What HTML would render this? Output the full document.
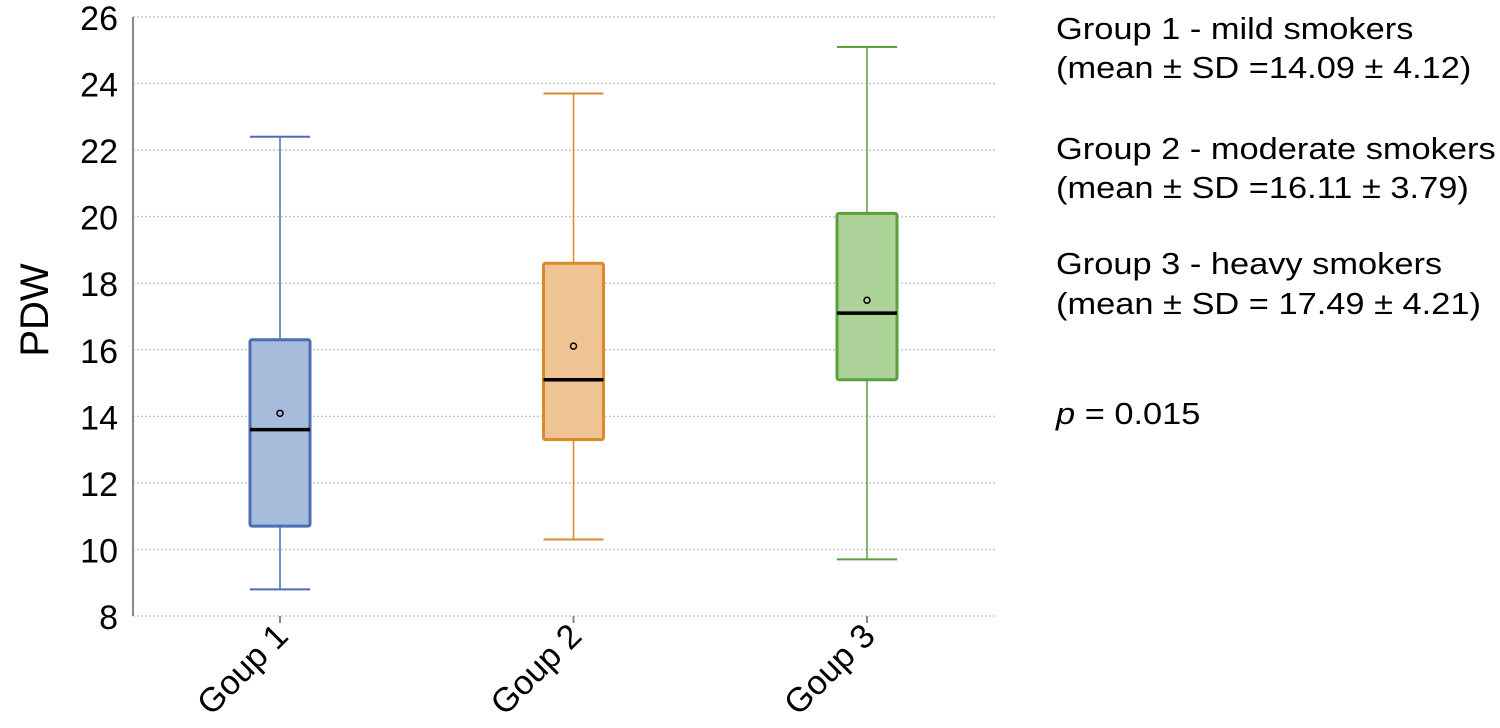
<!DOCTYPE html>
<html><head><meta charset="utf-8"><style>
body{margin:0;background:#fff;}
svg{display:block;font-family:"Liberation Sans",Arial,sans-serif;}
</style></head><body>
<svg id="chart" width="1500" height="728" viewBox="0 0 1500 728">
<g id="grid"></g>
<g id="yticks"></g>
<line x1="133" y1="17" x2="133" y2="616" stroke="#888" stroke-width="2"/>
<g id="boxes"></g>
<g id="xlabels"></g>
<text transform="translate(48,310) rotate(-90)" text-anchor="middle" font-size="40" fill="#000">PDW</text>
<g transform="translate(1056,0) scale(1.11,1)" font-size="31" fill="#000">
<text x="0" y="39">Group 1 - mild smokers</text>
<text x="0" y="78">(mean ± SD =14.09 ± 4.12)</text>
<text x="0" y="159">Group 2 - moderate smokers</text>
<text x="0" y="198">(mean ± SD =16.11 ± 3.79)</text>
<text x="0" y="274">Group 3 - heavy smokers</text>
<text x="0" y="314">(mean ± SD = 17.49 ± 4.21)</text>
<text x="0" y="424"><tspan font-style="italic">p</tspan> = 0.015</text>
</g>
</svg>
<script>
const categories=["Goup 1","Goup 2","Goup 3"];
const mins=[8.8,10.3,9.7];
const q1s=[10.7,13.3,15.1];
const medians=[13.6,15.1,17.1];
const q3s=[16.3,18.6,20.1];
const maxs=[22.4,23.7,25.1];
const means=[14.09,16.11,17.49];
const yTicks=[8,10,12,14,16,18,20,22,24,26];
const strokes=["#4a6fb0","#d98a2b","#5aa03c"];
const fills=["#a7bbdb","#efc393","#aed39a"];
const NS="http://www.w3.org/2000/svg";
const y=v=>616-(v-8)*(599/18);
const x=i=>280+i*293.5;
function mk(tag,attrs,parent){const e=document.createElementNS(NS,tag);for(const k in attrs)e.setAttribute(k,attrs[k]);parent.appendChild(e);return e;}
const grid=document.getElementById('grid'),yt=document.getElementById('yticks'),bx=document.getElementById('boxes'),xl=document.getElementById('xlabels');
yTicks.forEach(t=>{
 const l=mk('line',{x1:133,x2:995,y1:y(t),y2:y(t),stroke:'#c8c8c8','stroke-width':1.5,'stroke-dasharray':'2,2'},grid);
 
 
 const tx=mk('text',{x:118,y:y(t)+13,'text-anchor':'end','font-size':34,fill:'#000'},yt);
 tx.textContent=t;
 
 
});
categories.forEach((c,i)=>{
 const cx=x(i),hw=30,s=strokes[i];
 const g=mk('g',{},bx);
 
 
 mk('line',{x1:cx,x2:cx,y1:y(maxs[i]),y2:y(q3s[i]),stroke:s,'stroke-width':1.5},g);
 mk('line',{x1:cx,x2:cx,y1:y(q1s[i]),y2:y(mins[i]),stroke:s,'stroke-width':1.5},g);
 mk('line',{x1:cx-hw,x2:cx+hw,y1:y(maxs[i]),y2:y(maxs[i]),stroke:s,'stroke-width':2},g);
 mk('line',{x1:cx-hw,x2:cx+hw,y1:y(mins[i]),y2:y(mins[i]),stroke:s,'stroke-width':2},g);
 mk('rect',{x:cx-hw,y:y(q3s[i]),width:hw*2,height:y(q1s[i])-y(q3s[i]),fill:fills[i],stroke:s,'stroke-width':3,rx:2},g);
 mk('line',{x1:cx-hw,x2:cx+hw,y1:y(medians[i]),y2:y(medians[i]),stroke:'#000','stroke-width':3.5},g);
 mk('circle',{cx:cx,cy:y(means[i]),r:3,fill:'none',stroke:'#000','stroke-width':1.5},g);
 mk('line',{x1:cx,x2:cx,y1:616,y2:623,stroke:'#888','stroke-width':2},g);
 const t=mk('text',{transform:`translate(${cx+10},${638}) rotate(-45)`,'text-anchor':'end','font-size':34,fill:'#000'},xl);
 t.textContent=c;
 
 
});
</script>
</body></html>
